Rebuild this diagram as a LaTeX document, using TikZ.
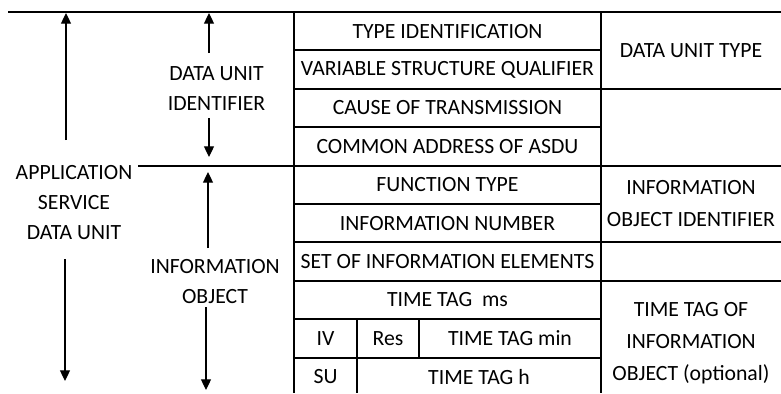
\documentclass[tikz,border=0pt]{standalone}
\usepackage{fontspec}
\setmainfont{Carlito}
\usetikzlibrary{arrows.meta}
\begin{document}
\begin{tikzpicture}[x=0.75pt,y=-0.75pt,
  grid/.style={line width=1.5pt},
  arr/.style={line width=0.9pt,-{Triangle[width=7.5pt,length=8pt]}},
  cell/.style={font=\fontsize{16.3}{22}\selectfont, inner sep=0pt, align=center},
  sidelabel/.style={cell, font=\fontsize{16.3}{22.5}\selectfont},
  rightlabel/.style={cell, font=\fontsize{16.3}{24}\selectfont}]
\useasboundingbox (0,0) rectangle (781,393);

% frame of the ASDU table
\draw[grid] (8,12) -- (781,12);
\draw[grid] (138,165.6) -- (781,165.6);
\draw[grid] (294,12) -- (294,393);
\draw[grid] (601,12) -- (601,393);
\foreach \y in {50.4,88.8,127.2,204,242.4,280.8,319.2,357.6}
  \draw[grid] (294,\y) -- (601,\y);
\foreach \y in {88.8,242.4,280.8}
  \draw[grid] (601,\y) -- (781,\y);
\draw[grid] (357,319.2) -- (357,393);
\draw[grid] (419,319.2) -- (419,357.6);

% field names
\node[cell] (typeid) at (447.5,31.2) {TYPE IDENTIFICATION};
\node[cell] (vsq) at (447.5,69.6) {VARIABLE STRUCTURE QUALIFIER};
\node[cell] (cot) at (447.5,108) {CAUSE OF TRANSMISSION};
\node[cell] (caa) at (447.5,146.4) {COMMON ADDRESS OF ASDU};
\node[cell] (fun) at (447.5,184.8) {FUNCTION TYPE};
\node[cell] (inf) at (447.5,223.2) {INFORMATION NUMBER};
\node[cell] (sie) at (447.5,261.6) {SET OF INFORMATION ELEMENTS};
\node[cell] (ms) at (447.5,300) {TIME TAG\ \ ms};
\node[cell] (iv) at (325.5,338.4) {IV};
\node[cell] (res) at (388,338.4) {Res};
\node[cell] (min) at (510,338.4) {TIME TAG min};
\node[cell] (su) at (325.5,376.8) {SU};
\node[cell] (hour) at (479,376.8) {TIME TAG h};

% group names on the right
\node[rightlabel] (dut) at (691,50.4) {DATA UNIT TYPE};
\node[rightlabel] (ioi) at (691,204) {INFORMATION\\OBJECT IDENTIFIER};
\node[rightlabel] (tto) at (691,343) {TIME TAG OF\\INFORMATION\\OBJECT (optional)};

% spans on the left
\node[sidelabel] (asdu) at (74,203) {APPLICATION\\SERVICE\\DATA UNIT};
\node[sidelabel] (dui) at (216.5,88.5) {DATA UNIT\\IDENTIFIER};
\node[sidelabel] (io) at (215,281.5) {INFORMATION\\OBJECT};

\coordinate (asduA) at (66,140);  \coordinate (asduTop) at (66,13);
\coordinate (asduB) at (65,259);  \coordinate (asduBot) at (65,381);
\coordinate (duiA) at (209,53);   \coordinate (duiTop) at (209,13);
\coordinate (duiB) at (209,118);  \coordinate (duiBot) at (209,157);
\coordinate (ioA) at (208,248);   \coordinate (ioTop) at (208,172);
\coordinate (ioB) at (206,307);   \coordinate (ioBot) at (206,390);

\draw[arr] (asduA) -- (asduTop);
\draw[arr] (asduB) -- (asduBot);
\draw[arr] (duiA) -- (duiTop);
\draw[arr] (duiB) -- (duiBot);
\draw[arr] (ioA) -- (ioTop);
\draw[arr] (ioB) -- (ioBot);
\end{tikzpicture}
\end{document}
